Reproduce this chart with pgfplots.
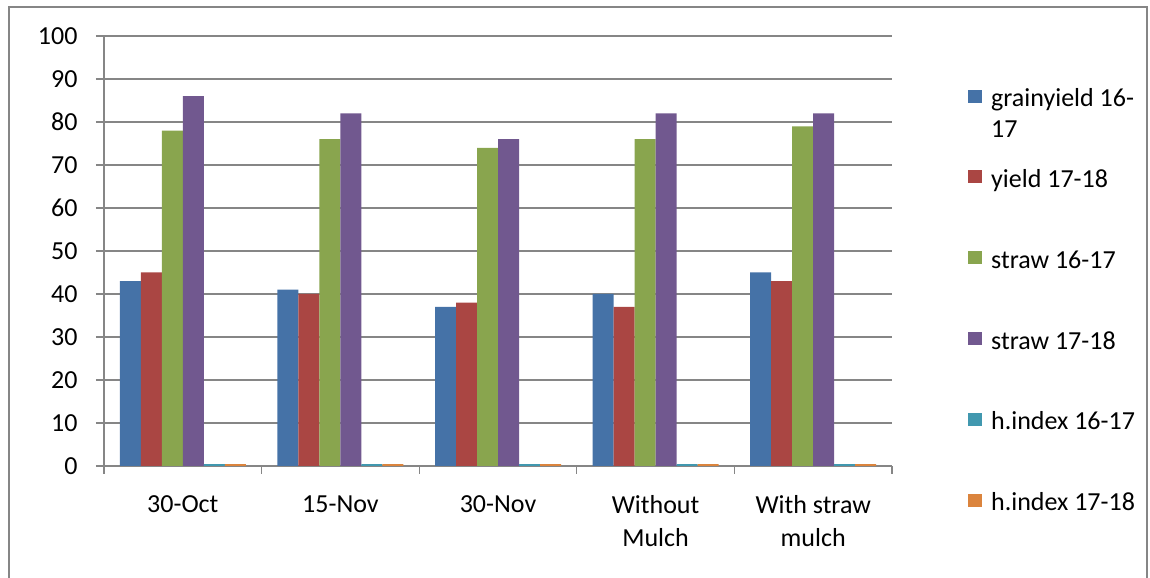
\documentclass[border=0pt]{standalone}
\usepackage{pgfplots}
\pgfplotsset{compat=1.18}
\usepackage{fontspec}
\setmainfont{Carlito}
\definecolor{c1}{HTML}{4572A7}
\definecolor{c2}{HTML}{AA4643}
\definecolor{c3}{HTML}{89A54E}
\definecolor{c4}{HTML}{71588F}
\definecolor{c5}{HTML}{4198AF}
\definecolor{c6}{HTML}{DB843D}
\definecolor{axgray}{HTML}{868686}
\newcommand\cf{\fontsize{26bp}{31.2bp}\selectfont}
\pgfplotstableread{
x g1 y2 s1 s2 h1 h2
0 43 45 78 86 0.45 0.45
1 41 40 76 82 0.45 0.45
2 37 38 74 76 0.45 0.45
3 40 37 76 82 0.45 0.45
4 45 43 79 82 0.45 0.45
}\data
\begin{document}
\begin{tikzpicture}
\path[use as bounding box] (0,0) rectangle (1150bp,578bp);
\draw[axgray, line width=1.3bp] (9bp,-2bp) -- (9bp,571bp) -- (1147bp,571bp) -- (1147bp,-2bp);
\begin{axis}[
  at={(104bp,112bp)}, anchor=south west,
  scale only axis, width=788bp, height=430bp,
  xmin=-0.5, xmax=4.5, ymin=0, ymax=100,
  ybar=0pt, bar width=21bp,
  axis x line*=bottom, axis y line*=left,
  axis line style={axgray, line width=1.1bp},
  ymajorgrids, grid style={axgray, line width=1.1bp},
  ytick={0,10,...,100},
  xtick={0,1,2,3,4},
  xticklabels={30-Oct, 15-Nov, 30-Nov, {Without\\[2bp]Mulch}, {With straw\\[2bp]mulch}},
  minor xtick={-0.5,0.5,1.5,2.5,3.5,4.5},
  major x tick style={draw=none},
  minor x tick style={axgray, line width=1.1bp},
  y tick style={axgray, line width=1.1bp},
  tick align=outside, major tick length=8bp, minor tick length=8bp,
  ticklabel style={font=\cf, text=black},
  xticklabel style={align=center, yshift=-18bp},
  yticklabel style={xshift=-15bp},
  /pgf/number format/assume math mode=true,
  legend style={at={(axis description cs:1.0964,0.888)}, anchor=north west, draw=none, fill=none,
    font=\cf, row sep=57.6bp, column sep=9bp, inner sep=0pt, nodes={inner sep=0pt}},
  legend cell align=left,
  legend image code/.code={\fill[#1,draw=none] (0bp,-6.5bp) rectangle (14bp,6.5bp);},
]
\addplot[fill=c1,draw=none] table[x=x,y=g1]{\data};
\addlegendentry{\raisebox{0pt}[\height][\dp\strutbox]{\begin{tabular}[t]{@{}l@{}}grainyield 16-\\17\end{tabular}}}
\addplot[fill=c2,draw=none] table[x=x,y=y2]{\data};
\addlegendentry{\strut yield 17-18}
\addplot[fill=c3,draw=none] table[x=x,y=s1]{\data};
\addlegendentry{\strut straw 16-17}
\addplot[fill=c4,draw=none] table[x=x,y=s2]{\data};
\addlegendentry{\strut straw 17-18}
\addplot[fill=c5,draw=none] table[x=x,y=h1]{\data};
\addlegendentry{\strut h.index 16-17}
\addplot[fill=c6,draw=none] table[x=x,y=h2]{\data};
\addlegendentry{\strut h.index 17-18}
\end{axis}
\end{tikzpicture}
\end{document}
